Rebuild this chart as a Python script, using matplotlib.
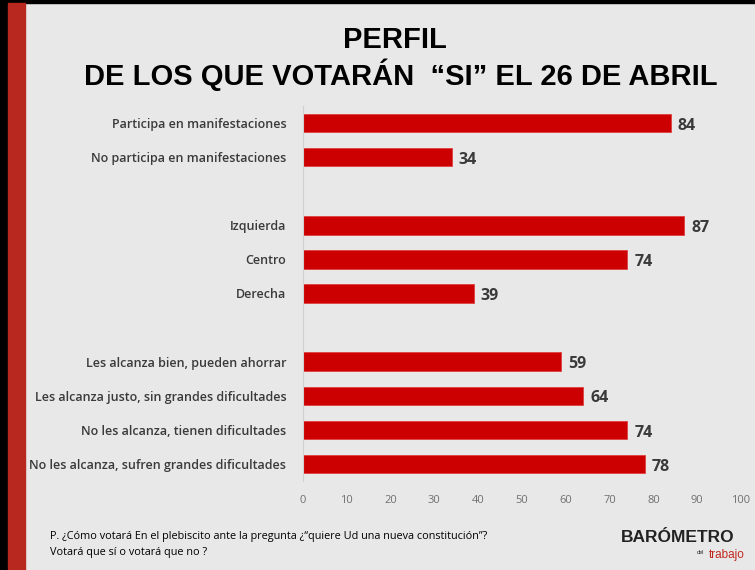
import matplotlib.pyplot as plt
from matplotlib.patches import Rectangle

# datos
categorias = [
    "Participa en manifestaciones",
    "No participa en manifestaciones",
    "",
    "Izquierda",
    "Centro",
    "Derecha",
    "",
    "Les alcanza bien, pueden ahorrar",
    "Les alcanza justo, sin grandes dificultades",
    "No les alcanza, tienen dificultades",
    "No les alcanza, sufren grandes dificultades",
]
valores = [84, 34, None, 87, 74, 39, None, 59, 64, 74, 78]
ticks_x = [0, 10, 20, 30, 40, 50, 60, 70, 80, 90, 100]

fondo = "#e8e8e8"
rojo = "#cc0000"
gris = "#3a3a3a"

fig = plt.figure(figsize=(7.55, 5.7), dpi=100, facecolor=fondo)

# bordes: negro arriba / izquierda, franja roja
fig.patches.append(Rectangle((0, 0), 8 / 755, 1, transform=fig.transFigure, color="black", zorder=0))
fig.patches.append(Rectangle((0, 1 - 3 / 570), 1, 3 / 570, transform=fig.transFigure, color="black", zorder=0))
fig.patches.append(Rectangle((8 / 755, 0), 17 / 755, 1 - 3 / 570, transform=fig.transFigure, color="#b8281e", zorder=0))

ax = fig.add_axes([303 / 755, 1 - 481 / 570, (741 - 303) / 755, (481 - 106) / 570])
ax.set_facecolor("none")

pos = list(range(len(categorias)))
for i, v in zip(pos, valores):
    if v is None:
        continue
    ax.barh(i, v, height=0.54, color=rojo, edgecolor="#e04040", linewidth=0.6)
    ax.text(v + 1.6, i + 0.08, str(v), va="center", ha="left", fontsize=11.5,
            fontweight="bold", color=gris, family="Open Sans")

ax.set_xlim(0, 100)
ax.set_ylim(len(categorias) - 0.5, -0.5)
ax.set_yticks(pos)
ax.set_yticklabels(categorias, fontsize=9, color=gris, family="Open Sans", fontweight="semibold")
ax.set_xticks(ticks_x)
ax.set_xticklabels([str(t) for t in ticks_x], fontsize=8, color="#707070", family="Open Sans")
ax.tick_params(axis="both", length=0)
ax.tick_params(axis="y", pad=12)
ax.tick_params(axis="x", pad=10)
for s in ["top", "right", "bottom"]:
    ax.spines[s].set_visible(False)
ax.spines["left"].set_color("#d0d0d0")

# titulo
fig.text(395 / 755, 1 - 40 / 570, "PERFIL", ha="center", va="center",
         fontsize=21, fontweight="bold", family="Liberation Sans")
fig.text(401 / 755, 1 - 75 / 570, "DE LOS QUE VOTARÁN  \u201cSI\u201d EL 26 DE ABRIL", ha="center",
         va="center", fontsize=21, fontweight="bold", family="Liberation Sans")

# pie
fig.text(50 / 755, 1 - 537 / 570,
         "P. ¿Cómo votará En el plebiscito ante la pregunta ¿\u201cquiere Ud una nueva constitución\u201d?",
         ha="left", va="center", fontsize=7.8, color="black", family="Open Sans")
fig.text(50 / 755, 1 - 552 / 570, "Votará que sí o votará que no ?",
         ha="left", va="center", fontsize=7.8, color="black", family="Open Sans")

# logo
fig.text(735 / 755, 1 - 537 / 570, "BARÓMETRO", ha="right", va="center", fontsize=12.5,
         fontweight="bold", color="#222222", family="Liberation Sans")
fig.text(745 / 755, 1 - 555 / 570, "trabajo", ha="right", va="center", fontsize=8.5,
         color="#c0281e", family="Liberation Sans")
fig.text(704 / 755, 1 - 553 / 570, "del", ha="right", va="center", fontsize=4,
         color="#222222", family="Liberation Sans")

fig.savefig("out.png", dpi=100, facecolor=fondo)
